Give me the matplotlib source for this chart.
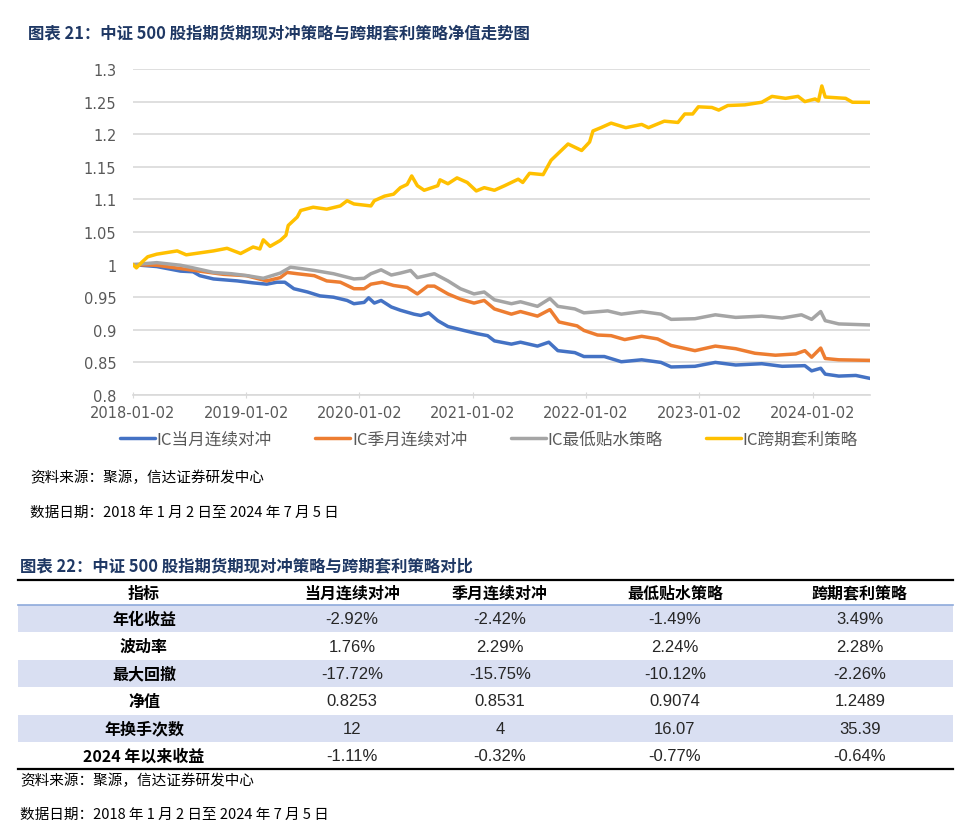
import matplotlib
matplotlib.use('Agg')
import matplotlib.pyplot as plt
import pandas as pd

plt.rcParams['font.family'] = ['Noto Sans CJK SC', 'DejaVu Sans']

# Net value series, x = years after 2018-01-02
yrs_month = [0.00, 0.21, 0.42, 0.53, 0.59, 0.71, 0.92, 1.06, 1.18, 1.27, 1.34, 1.42, 1.54,
             1.65, 1.77, 1.89, 1.95, 2.04, 2.08, 2.13, 2.19, 2.28, 2.36, 2.48, 2.54, 2.61,
             2.69, 2.78, 2.92, 3.04, 3.13, 3.19, 3.34, 3.42, 3.57, 3.67, 3.75, 3.90, 3.98,
             4.16, 4.31, 4.49, 4.66, 4.75, 4.96, 5.14, 5.32, 5.55, 5.73, 5.93, 5.99, 6.07,
             6.11, 6.23, 6.38, 6.51]
nv_month = [1.000, 0.997, 0.990, 0.989, 0.983, 0.978, 0.975, 0.972, 0.970, 0.973, 0.973, 0.963, 0.958,
            0.952, 0.950, 0.945, 0.940, 0.942, 0.949, 0.941, 0.945, 0.935, 0.930, 0.924, 0.922, 0.926,
            0.914, 0.905, 0.899, 0.894, 0.891, 0.883, 0.878, 0.881, 0.875, 0.881, 0.868, 0.865, 0.859,
            0.859, 0.851, 0.854, 0.850, 0.843, 0.844, 0.850, 0.846, 0.848, 0.844, 0.845, 0.837, 0.841,
            0.832, 0.829, 0.830, 0.8253]

yrs_season = [0.00, 0.21, 0.50, 0.80, 1.00, 1.18, 1.30, 1.36, 1.45, 1.60, 1.71, 1.83, 1.95,
              2.04, 2.10, 2.20, 2.30, 2.42, 2.51, 2.60, 2.66, 2.78, 2.89, 3.01, 3.10, 3.19,
              3.34, 3.42, 3.57, 3.68, 3.76, 3.92, 3.98, 4.10, 4.22, 4.34, 4.49, 4.63, 4.75,
              4.96, 5.14, 5.32, 5.49, 5.67, 5.85, 5.93, 5.99, 6.07, 6.11, 6.23, 6.51]
nv_season = [1.000, 0.999, 0.992, 0.985, 0.983, 0.975, 0.980, 0.988, 0.986, 0.983, 0.975, 0.973, 0.963,
             0.963, 0.970, 0.973, 0.968, 0.965, 0.955, 0.967, 0.967, 0.955, 0.947, 0.941, 0.945, 0.932,
             0.924, 0.928, 0.921, 0.931, 0.912, 0.906, 0.899, 0.892, 0.891, 0.885, 0.890, 0.886, 0.876,
             0.868, 0.875, 0.871, 0.864, 0.861, 0.863, 0.868, 0.858, 0.872, 0.856, 0.854, 0.8531]

yrs_lowest = [0.00, 0.21, 0.42, 0.53, 0.71, 0.87, 1.01, 1.15, 1.30, 1.39, 1.48, 1.60, 1.77,
              1.95, 2.04, 2.10, 2.19, 2.28, 2.36, 2.45, 2.51, 2.66, 2.78, 2.89, 3.01, 3.10,
              3.19, 3.34, 3.42, 3.57, 3.68, 3.75, 3.90, 3.98, 4.19, 4.31, 4.49, 4.66, 4.75,
              4.96, 5.14, 5.32, 5.55, 5.73, 5.90, 5.99, 6.07, 6.11, 6.23, 6.51]
nv_lowest = [1.000, 1.003, 0.999, 0.995, 0.988, 0.986, 0.983, 0.979, 0.987, 0.996, 0.994, 0.991, 0.986,
             0.978, 0.979, 0.986, 0.992, 0.984, 0.987, 0.991, 0.980, 0.986, 0.975, 0.963, 0.955, 0.958,
             0.946, 0.940, 0.943, 0.936, 0.948, 0.936, 0.932, 0.926, 0.929, 0.924, 0.928, 0.924, 0.916,
             0.917, 0.923, 0.919, 0.921, 0.918, 0.923, 0.916, 0.928, 0.914, 0.909, 0.9074]

yrs_calendar = [0.00, 0.03, 0.08, 0.13, 0.21, 0.39, 0.47, 0.71, 0.83, 0.95, 1.06, 1.12, 1.15,
                1.21, 1.30, 1.35, 1.37, 1.45, 1.48, 1.59, 1.71, 1.83, 1.89, 1.95, 2.10, 2.13,
                2.22, 2.30, 2.36, 2.42, 2.46, 2.51, 2.57, 2.69, 2.71, 2.78, 2.86, 2.95, 3.03,
                3.10, 3.19, 3.28, 3.40, 3.44, 3.50, 3.62, 3.69, 3.78, 3.84, 3.96, 4.03, 4.06,
                4.13, 4.22, 4.35, 4.49, 4.55, 4.69, 4.81, 4.87, 4.94, 4.99, 5.11, 5.17, 5.25,
                5.40, 5.55, 5.64, 5.76, 5.87, 5.93, 6.02, 6.05, 6.08, 6.11, 6.29, 6.35, 6.51]
nv_calendar = [1.000, 0.995, 1.004, 1.012, 1.016, 1.021, 1.015, 1.021, 1.025, 1.017, 1.027, 1.024, 1.038,
               1.028, 1.037, 1.045, 1.060, 1.073, 1.083, 1.088, 1.085, 1.090, 1.098, 1.093, 1.090, 1.098,
               1.105, 1.108, 1.118, 1.123, 1.136, 1.121, 1.114, 1.121, 1.130, 1.124, 1.133, 1.126, 1.113,
               1.118, 1.114, 1.121, 1.131, 1.126, 1.140, 1.138, 1.160, 1.175, 1.185, 1.175, 1.188, 1.205,
               1.210, 1.217, 1.210, 1.215, 1.210, 1.220, 1.218, 1.231, 1.231, 1.242, 1.241, 1.237, 1.244,
               1.245, 1.249, 1.258, 1.255, 1.258, 1.250, 1.254, 1.251, 1.274, 1.257, 1.255, 1.249, 1.2489]

series_names = ['IC当月连续对冲', 'IC季月连续对冲', 'IC最低贴水策略', 'IC跨期套利策略']
series_colors = ['#4472C4', '#ED7D31', '#A5A5A5', '#FFC000']

tick_dates = ['2018-01-02', '2019-01-02', '2020-01-02', '2021-01-02',
              '2022-01-02', '2023-01-02', '2024-01-02']
start_date = '2018-01-02'
end_date = '2024-07-05'

# comparison table
col_names = ['指标', '当月连续对冲', '季月连续对冲', '最低贴水策略', '跨期套利策略']
row_names = ['年化收益', '波动率', '最大回撤', '净值', '年换手次数', '2024 年以来收益']
annual_ret = ['-2.92%', '-2.42%', '-1.49%', '3.49%']
volatility = ['1.76%', '2.29%', '2.24%', '2.28%']
max_dd = ['-17.72%', '-15.75%', '-10.12%', '-2.26%']
net_value = ['0.8253', '0.8531', '0.9074', '1.2489']
turnover = ['12', '4', '16.07', '35.39']
ytd_ret = ['-1.11%', '-0.32%', '-0.77%', '-0.64%']
table_rows = [annual_ret, volatility, max_dd, net_value, turnover, ytd_ret]

title1 = '图表 21：中证 500 股指期货期现对冲策略与跨期套利策略净值走势图'
title2 = '图表 22：中证 500 股指期货期现对冲策略与跨期套利策略对比'
source_txt = '资料来源：聚源，信达证券研发中心'
date_txt = '数据日期：2018 年 1 月 2 日至 2024 年 7 月 5 日'

W, H = 979, 837
navy = '#1F3864'
txt_grey = '#595959'

fig = plt.figure(figsize=(W / 100, H / 100), dpi=100)

# ---- line chart ----
ax = fig.add_axes([133 / W, 1 - 396 / H, (870 - 133) / W, (396 - 70) / H])
t0 = pd.Timestamp(start_date)
all_yrs = [yrs_month, yrs_season, yrs_lowest, yrs_calendar]
all_nv = [nv_month, nv_season, nv_lowest, nv_calendar]
handles = []
for yrs, nv, name, c in zip(all_yrs, all_nv, series_names, series_colors):
    d = t0 + pd.to_timedelta([y * 365.25 for y in yrs], unit='D')
    h, = ax.plot(d, nv, color=c, lw=2.5, label=name, solid_capstyle='round')
    handles.append(h)

ax.set_ylim(0.8, 1.3)
ax.set_xlim(t0, pd.Timestamp(end_date))
ax.set_yticks([0.8, 0.85, 0.9, 0.95, 1.0, 1.05, 1.1, 1.15, 1.2, 1.25, 1.3])
ax.set_yticklabels(['0.8', '0.85', '0.9', '0.95', '1', '1.05', '1.1', '1.15', '1.2', '1.25', '1.3'])
ax.set_xticks(pd.to_datetime(tick_dates))
ax.set_xticklabels(tick_dates)
ax.grid(axis='y', color='#D9D9D9', lw=1.2)
ax.set_axisbelow(True)
for s in ['top', 'right', 'left']:
    ax.spines[s].set_visible(False)
ax.spines['bottom'].set_color('#D9D9D9')
ax.spines['bottom'].set_linewidth(1.2)
ax.tick_params(axis='y', length=0, pad=12, labelsize=10.5, labelcolor=txt_grey)
ax.tick_params(axis='x', length=4, direction='inout', color='#D9D9D9',
               labelsize=10.5, labelcolor=txt_grey, pad=5)
for lab in ax.get_xticklabels() + ax.get_yticklabels():
    lab.set_family('DejaVu Sans')

fig.legend(handles=handles, loc='center', bbox_to_anchor=(489 / W, 1 - 440 / H), ncol=4,
           frameon=False, fontsize=12, handlelength=2.1, handletextpad=0.1,
           columnspacing=2.6, labelcolor=txt_grey)

# ---- page overlay for texts and table ----
page = fig.add_axes([0, 0, 1, 1])
page.set_xlim(0, W)
page.set_ylim(H, 0)
page.axis('off')

page.text(28, 33, title1, fontsize=11.8, fontweight='bold', color=navy, va='center')
page.text(30, 478, source_txt, fontsize=10.5, style='italic', va='center')
page.text(30, 513, date_txt, fontsize=10.5, style='italic', va='center')
page.text(20, 566, title2, fontsize=11.8, fontweight='bold', color=navy, va='center')

x_left, x_right = 18, 953
col_x = [144, 352, 500, 675, 860]
head_top, head_bot = 581, 606
row_h = 27.4

page.plot([x_left, x_right], [head_top, head_top], color='black', lw=1.6)
for cx, name in zip(col_x, col_names):
    page.text(cx, (head_top + head_bot) / 2, name, fontsize=11.5, fontweight='bold',
              ha='center', va='center')
for i, (rname, vals) in enumerate(zip(row_names, table_rows)):
    top = head_bot + i * row_h
    if i % 2 == 0:
        page.add_patch(plt.Rectangle((x_left, top), x_right - x_left, row_h,
                                     color='#D9DFF2', lw=0))
    yc = top + row_h / 2
    page.text(col_x[0], yc, rname, fontsize=11.5, fontweight='bold', ha='center', va='center')
    for cx, v in zip(col_x[1:], vals):
        page.text(cx, yc, v, fontsize=12, ha='center', va='center', color='#262626',
                  family='Liberation Sans')
page.plot([x_left, x_right], [head_bot, head_bot], color='#8EAADB', lw=1.2)
tab_bot = head_bot + len(row_names) * row_h
page.plot([x_left, x_right], [tab_bot, tab_bot], color='black', lw=1.6)

page.text(20, 781, source_txt, fontsize=10.5, style='italic', va='center')
page.text(20, 815, date_txt, fontsize=10.5, style='italic', va='center')

fig.savefig('out.png', dpi=100)
